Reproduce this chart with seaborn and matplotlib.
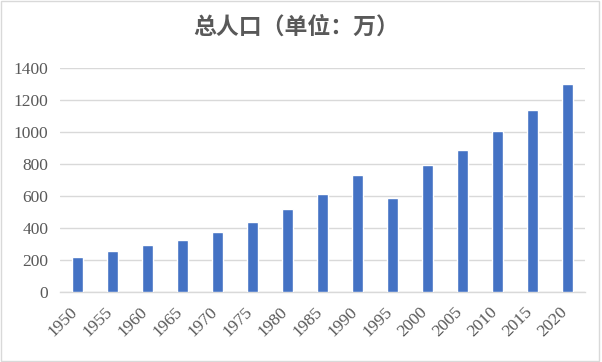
import matplotlib
matplotlib.use("Agg")
import matplotlib.pyplot as plt
import matplotlib.transforms as mtrans
import seaborn as sns
import pandas as pd
from matplotlib.patches import Rectangle

years = ["1950", "1955", "1960", "1965", "1970", "1975", "1980", "1985",
         "1990", "1995", "2000", "2005", "2010", "2015", "2020"]
population = [220, 258, 296, 327, 377, 439, 520, 614,
              733, 589, 795, 889, 1008, 1139, 1302]
yticks = [0, 200, 400, 600, 800, 1000, 1200, 1400]
title = "总人口（单位：万）"

df = pd.DataFrame({"year": years, "pop": population})

sns.set_theme(style="white")
plt.rcParams["font.family"] = ["Liberation Serif", "Noto Sans CJK SC", "DejaVu Sans"]

fig = plt.figure(figsize=(6.02, 3.62), dpi=100)
ax = fig.add_axes([60 / 602, 1 - 292 / 362, 525 / 602, 224 / 362])

sns.barplot(data=df, x="year", y="pop", color="#4472C4", width=0.31,
            saturation=1, ax=ax, zorder=3)

ax.set_ylim(0, 1400)
ax.set_xlim(-0.5, len(years) - 0.5)
ax.set_yticks(yticks)
ax.set_yticklabels([str(v) for v in yticks])
ax.yaxis.grid(True, color="#d9d9d9", linewidth=1.0, zorder=0)
ax.set_axisbelow(True)
for s in ["left", "right", "top"]:
    ax.spines[s].set_visible(False)
ax.spines["bottom"].set_color("#d9d9d9")
ax.spines["bottom"].set_linewidth(1.0)
ax.set_xlabel("")
ax.set_ylabel("")
ax.tick_params(axis="both", length=0, labelsize=12.5, labelcolor="#595959")
ax.tick_params(axis="y", pad=8.5)
ax.tick_params(axis="x", pad=0)
offset = mtrans.ScaledTranslation(-8.5 / 100, -12 / 100, fig.dpi_scale_trans)
for lab in ax.get_xticklabels():
    lab.set_rotation(45)
    lab.set_ha("right")
    lab.set_rotation_mode("anchor")
    lab.set_transform(lab.get_transform() + offset)

fig.text(0.492, 0.925, title, ha="center", va="center", fontsize=16.5,
         fontweight="bold", color="#595959",
         family=["Noto Sans CJK SC", "DejaVu Sans"])

fig.patches.append(Rectangle((0.002, 0.003), 0.993, 0.994, transform=fig.transFigure,
                             fill=False, edgecolor="#d9d9d9", linewidth=1.0))

fig.savefig("out.png", dpi=100)
